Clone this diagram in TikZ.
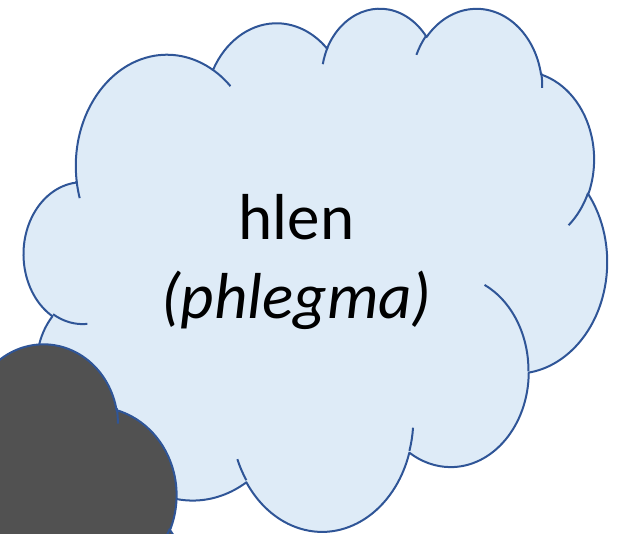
\documentclass[tikz,border=0pt]{standalone}
\usepackage{fontspec}
\setmainfont{Carlito}
\definecolor{cloudfill}{HTML}{DEEBF7}
\definecolor{cloudline}{HTML}{2F5597}
\definecolor{darkfill}{HTML}{515151}
\pgfmathdeclarefunction{pang}{3}{%
  \pgfmathparse{#1+atan2((#2-#3)*sin(#1)*cos(#1),#3*cos(#1)*cos(#1)+#2*sin(#1)*sin(#1))}%
}
\newcommand\cloudarc[4]{arc[start angle={-pang(#3,#1,#2)},end angle={-pang(#3+#4,#1,#2)},x radius={#1/4320*\CW pt},y radius={#2/4320*\CH pt}]}
\newcommand\cpt[2]{({#1/4320*\CW pt},{-#2/4320*\CH pt})}
\newcommand\cloudshape[5]{%
  \begin{scope}[shift={(#1pt,-#2pt)}]
  \def\CW{#3}\def\CH{#4}%
  \filldraw[cloudoutline, fill=#5] \cpt{390}{1437}
    \cloudarc{675.3}{919.0}{-190.48748}{123.78053}
    \cloudarc{533.3}{726.7}{-144.10238}{89.94523}
    \cloudarc{436.5}{594.5}{-145.80792}{99.72302}
    \cloudarc{485.7}{659.5}{-130.98607}{117.24173}
    \cloudarc{533.3}{727.3}{-78.70888}{109.02692}
    \cloudarc{677.5}{922.0}{-46.26725}{130.269}
    \cloudarc{578.5}{786.7}{0.62502}{114.03333}
    \cloudarc{675.2}{921.5}{22.4516}{115.17255}
    \cloudarc{772.0}{1054.3}{66.24263}{75.71102}
    \cloudarc{436.0}{591.8}{-274.94208}{146.73557}
    \cloudarc{434.5}{594.5}{-246.8285}{152.51885}
    -- cycle;
  \draw[cloudoutline]
    \cpt{469.3}{2617.7} \cloudarc{434.5}{594.5}{86.742}{26.4295}
    \cpt{692.8}{3489.9} \cloudarc{436.0}{591.8}{73.610467}{11.447467}
    \cpt{1647.8}{3909.0} \cloudarc{675.2}{921.5}{137.62415}{14.0811}
    \cpt{2882.7}{3475.1} \cloudarc{675.2}{921.5}{6.453267}{15.99835}
    \cpt{3412.9}{2295.4} \cloudarc{578.5}{786.7}{-70.29235}{70.917367}
    \cpt{4179.8}{1535.4} \cloudarc{533.3}{727.3}{30.318033}{27.7515}
    \cpt{3832.4}{542.6} \cloudarc{485.7}{659.5}{-13.744333}{14.8589}
    \cpt{2907.8}{395.2} \cloudarc{485.7}{659.5}{-149.18145}{18.195367}
    \cpt{2214.1}{472.0} \cloudarc{436.5}{594.5}{-163.494267}{17.68635}
    \cpt{1400.0}{519.2} \cloudarc{675.3}{919.0}{-66.70695}{12.31935}
    \cpt{412.7}{1578.9} \cloudarc{675.3}{919.0}{157.65435}{11.858167};
  \end{scope}}
\tikzset{
  cloudoutline/.style={draw=cloudline, line width=2pt, line join=round},
  bigtext/.style={anchor=base, inner sep=0pt, font=\fontsize{65}{78}\selectfont}
}
\begin{document}
\begin{tikzpicture}
\useasboundingbox (0pt,0pt) rectangle (623pt,-534pt);
\clip (0pt,0pt) rectangle (623pt,-534pt);
\cloudshape{24}{7}{583}{523}{cloudfill}
\node[bigtext] (hlen) at (296.5pt,-239.3pt) {hlen};
\node[bigtext] (phlegma) at (296.5pt,-318pt) {\itshape (phlegma)};
\cloudshape{-468.8}{342.5}{660}{524}{darkfill}
\end{tikzpicture}
\end{document}
